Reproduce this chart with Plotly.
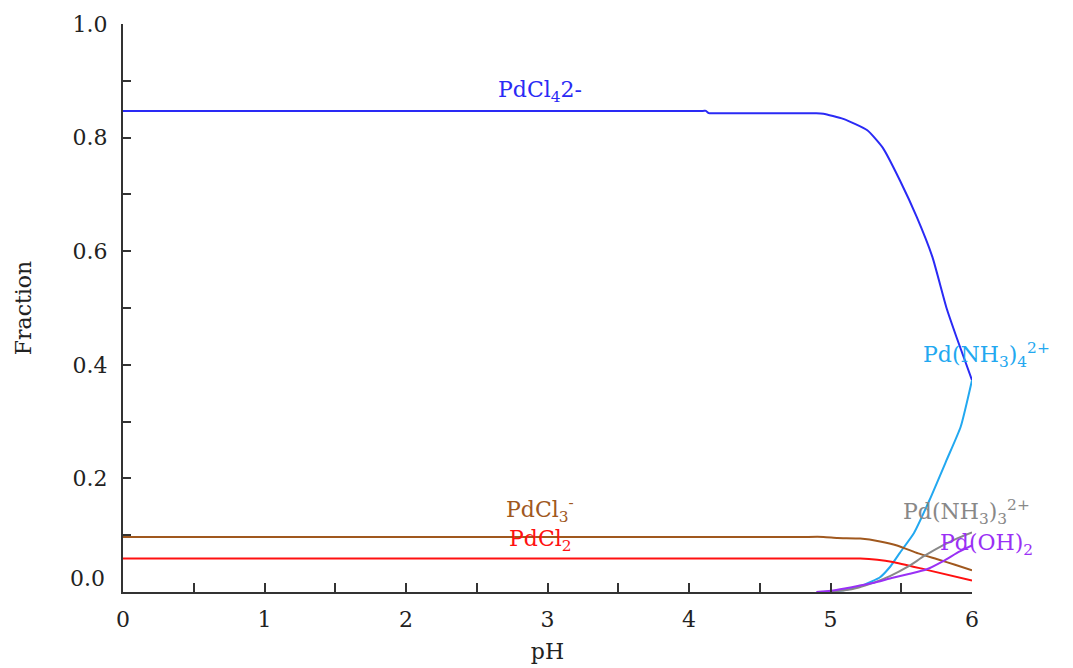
import plotly.graph_objects as go

# ---- data ----
ph_pdcl4 = [0, 1, 2, 3, 4, 4.1, 4.12, 4.14, 4.2, 4.5, 4.8, 4.9, 4.95, 5.09, 5.26, 5.37, 5.49, 5.61, 5.72, 5.82, 5.89, 6.0]
f_pdcl4 = [0.847, 0.847, 0.847, 0.847, 0.847, 0.847, 0.847, 0.843, 0.843, 0.843, 0.843, 0.843, 0.842, 0.833, 0.813, 0.782, 0.725, 0.660, 0.590, 0.500, 0.449, 0.373]

ph_nh34 = [5.0, 5.11, 5.23, 5.35, 5.42, 5.49, 5.59, 5.70, 5.82, 5.92, 6.0]
f_nh34 = [0.0, 0.004, 0.012, 0.026, 0.044, 0.069, 0.104, 0.162, 0.232, 0.291, 0.373]

ph_pdcl3 = [0, 1, 2, 3, 4, 4.8, 4.95, 5.05, 5.21, 5.35, 5.47, 5.62, 5.75, 5.88, 6.0]
f_pdcl3 = [0.097, 0.097, 0.097, 0.097, 0.097, 0.097, 0.097, 0.095, 0.094, 0.089, 0.082, 0.068, 0.058, 0.048, 0.038]

ph_pdcl2 = [0, 1, 2, 3, 4, 5.0, 5.21, 5.44, 5.68, 6.0]
f_pdcl2 = [0.059, 0.059, 0.059, 0.059, 0.059, 0.059, 0.059, 0.053, 0.039, 0.020]

ph_nh33 = [4.95, 5.1, 5.2, 5.3, 5.42, 5.55, 5.66, 5.8, 5.9, 6.0]
f_nh33 = [0.0, 0.003, 0.008, 0.016, 0.028, 0.045, 0.063, 0.083, 0.095, 0.105]

ph_oh2 = [4.9, 5.0, 5.1, 5.2, 5.3, 5.44, 5.56, 5.68, 5.8, 5.91, 6.0]
f_oh2 = [0.0, 0.002, 0.006, 0.011, 0.016, 0.025, 0.032, 0.040, 0.055, 0.071, 0.082]

x_ticks = [0, 1, 2, 3, 4, 5, 6]
y_ticks = [0.0, 0.2, 0.4, 0.6, 0.8, 1.0]
y_ticktext = ["", "0.2", "0.4", "0.6", "0.8", "1.0"]

series = [
    (ph_pdcl4, f_pdcl4, "#2a2af5"),
    (ph_nh34, f_nh34, "#22a8f0"),
    (ph_pdcl3, f_pdcl3, "#a0581e"),
    (ph_pdcl2, f_pdcl2, "#ff1010"),
    (ph_nh33, f_nh33, "#888888"),
    (ph_oh2, f_oh2, "#9a30f5"),
]

# (text, x, y, xshift, colour)
labels = [
    ("PdCl<sub>4</sub>2-", 2.95, 0.882, 0, "#2a2af5"),
    ("Pd(NH<sub>3</sub>)<sub>4</sub><sup>2+</sup>", 6.0, 0.417, 14, "#22a8f0"),
    ("PdCl<sub>3</sub><sup>-</sup>", 2.95, 0.144, 0, "#a0581e"),
    ("PdCl<sub>2</sub>", 2.95, 0.090, 0, "#ff1010"),
    ("Pd(NH<sub>3</sub>)<sub>3</sub><sup>2+</sup>", 5.96, 0.141, 0, "#888888"),
    ("Pd(OH)<sub>2</sub>", 6.0, 0.084, 14, "#9a30f5"),
]

FONT = "DejaVu Serif"
FS = 22

fig = go.Figure()
for xs, ys, col in series:
    fig.add_trace(go.Scatter(x=xs, y=ys, mode="lines",
                             line=dict(color=col, width=2, shape="spline", smoothing=0.5),
                             showlegend=False, hoverinfo="skip", cliponaxis=False))

for txt, x, y, xs, col in labels:
    fig.add_annotation(x=x, y=y, xref="x", yref="y", text=txt, showarrow=False,
                       xanchor="center", yanchor="middle", xshift=xs,
                       font=dict(family=FONT, size=FS, color=col))

# "0.0" tick label sits slightly above the axis in the reference
fig.add_annotation(x=0, y=0, xref="paper", yref="y", text="0.0", showarrow=False,
                   xanchor="right", yanchor="middle", xshift=-16, yshift=14,
                   font=dict(family=FONT, size=FS, color="#222"))

# page body has an 8px margin in the browser, so offsets compensate for it
fig.update_layout(
    width=1073, height=668,
    margin=dict(l=115, r=109, t=16, b=84),
    paper_bgcolor="white", plot_bgcolor="white",
    font=dict(family=FONT, size=FS, color="#222"),
)
fig.update_xaxes(
    range=[0, 6], tickvals=x_ticks, ticks="inside", ticklen=9, tickwidth=2,
    tickcolor="#333", showline=True, linecolor="#333", linewidth=2,
    showgrid=False, zeroline=False, ticklabelstandoff=7, automargin=False,
    minor=dict(dtick=0.5, ticks="inside", ticklen=9, tickwidth=2, tickcolor="#333", showgrid=False),
    title=dict(text="pH", standoff=12, font=dict(family=FONT, size=FS, color="#222")),
)
fig.update_yaxes(
    range=[0, 1], tickvals=y_ticks, ticktext=y_ticktext, ticks="inside", ticklen=8, tickwidth=2,
    tickcolor="#333", showline=True, linecolor="#333", linewidth=2,
    showgrid=False, zeroline=False, ticklabelstandoff=9, automargin=False,
    minor=dict(dtick=0.1, ticks="inside", ticklen=8, tickwidth=2, tickcolor="#333", showgrid=False),
    title=dict(text="Fraction", standoff=35, font=dict(family=FONT, size=FS, color="#222")),
)

fig.write_html("out.html")
